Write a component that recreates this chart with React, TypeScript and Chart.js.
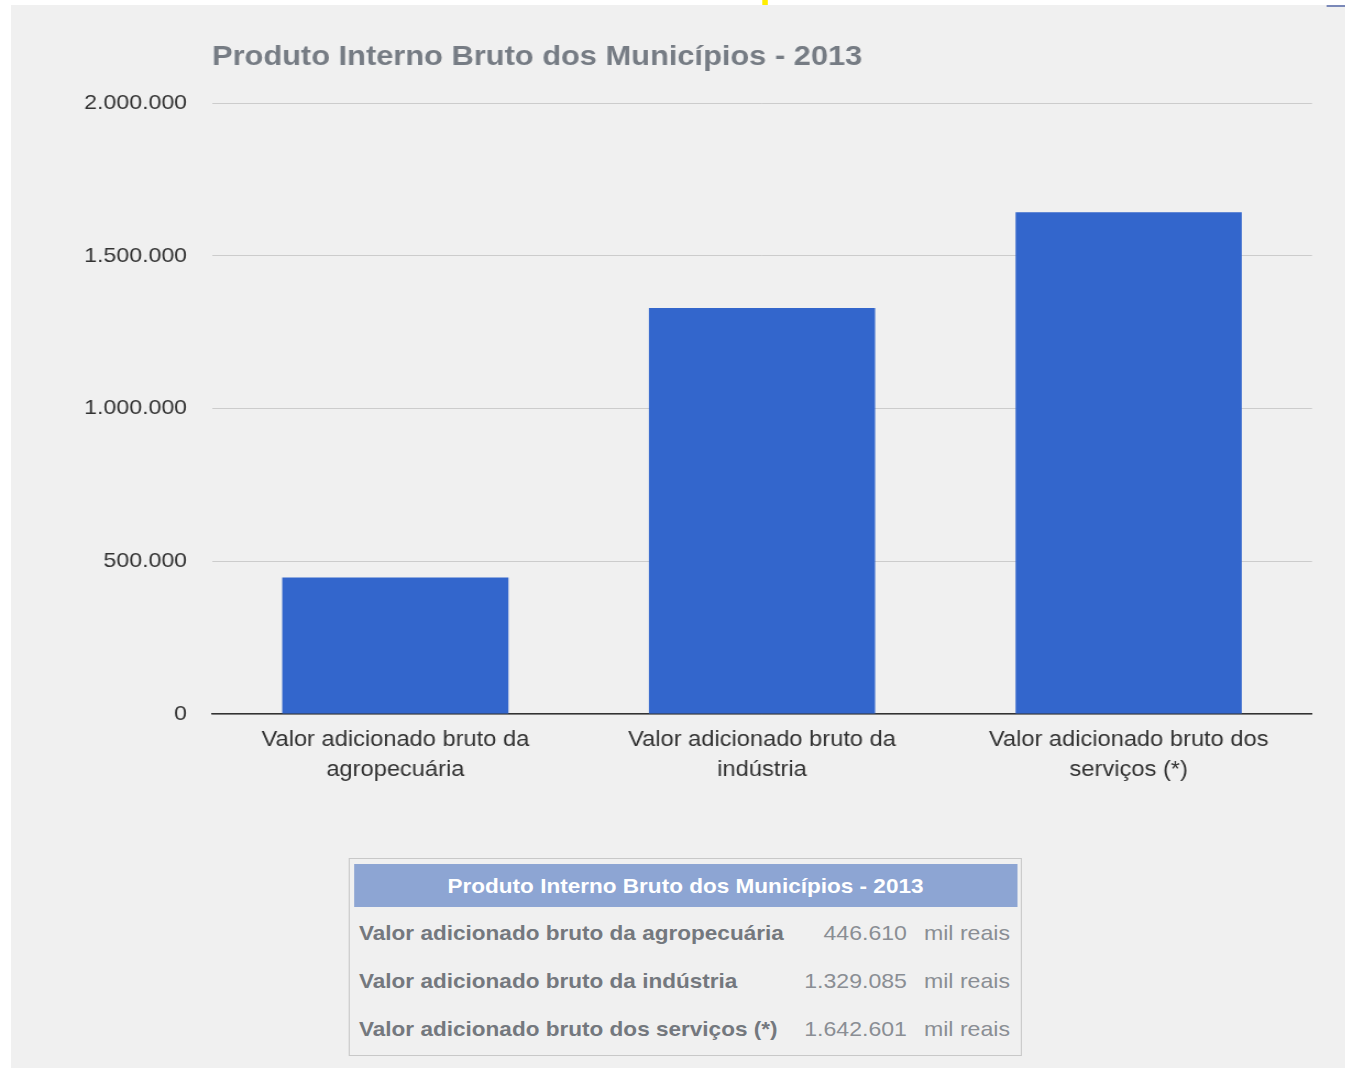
import React, { useEffect, useRef } from "react";
import { Chart, registerables } from "chart.js";

Chart.register(...registerables);

const TITLE = "Produto Interno Bruto dos Municípios - 2013";
const categories: string[][] = [
  ["Valor adicionado bruto da", "agropecuária"],
  ["Valor adicionado bruto da", "indústria"],
  ["Valor adicionado bruto dos", "serviços (*)"],
];
const tableLabels = [
  "Valor adicionado bruto da agropecuária",
  "Valor adicionado bruto da indústria",
  "Valor adicionado bruto dos serviços (*)",
];
const values = [446610, 1329085, 1642601];
const unit = "mil reais";
const yMax = 2000000;
const yStep = 500000;

const fmt = (v: number) => {
  const s = Math.round(v).toString();
  return s.replace(/\B(?=(\d{3})+(?!\d))/g, ".");
};

const FONT = "'Liberation Sans', Arial, sans-serif";
// the whole picture is drawn in a box that is stretched horizontally by K
const K = 1.1;
const W = 1223;
const X = (px: number) => px / K;

const titlePlugin = {
  id: "leftTitle",
  afterDraw(chart: any) {
    const { ctx, chartArea } = chart;
    ctx.save();
    ctx.font = `bold 28px ${FONT}`;
    ctx.fillStyle = "#767c84";
    ctx.textBaseline = "middle";
    ctx.textAlign = "left";
    ctx.fillText(TITLE, chartArea.left, 57);
    ctx.restore();
  },
};

function BarChart() {
  const ref = useRef<HTMLCanvasElement>(null);
  useEffect(() => {
    if (!ref.current) return;
    const chart = new Chart(ref.current, {
      type: "bar",
      data: {
        labels: categories,
        datasets: [
          {
            data: values,
            backgroundColor: "#3366cc",
            borderWidth: 0,
            categoryPercentage: 1,
            barPercentage: 0.617,
          },
        ],
      },
      options: {
        animation: false,
        responsive: false,
        maintainAspectRatio: false,
        layout: { padding: { left: 0, top: 103, right: W - X(1312), bottom: 0 } },
        plugins: {
          legend: { display: false },
          title: { display: false },
          tooltip: { enabled: false },
        },
        scales: {
          x: {
            grid: { display: false, drawTicks: false },
            border: { display: true, color: "#333333", width: 1.5 },
            ticks: {
              color: "#333333",
              font: { family: FONT, size: 21.5, lineHeight: 1.4 },
              padding: 11,
              maxRotation: 0,
              autoSkip: false,
            },
            afterFit(scale: any) {
              scale.height = 106;
            },
          },
          y: {
            min: 0,
            max: yMax,
            grid: { color: "#cccccc", lineWidth: 1, drawTicks: false },
            border: { display: false },
            ticks: {
              stepSize: yStep,
              color: "#333333",
              font: { family: FONT, size: 21 },
              padding: X(212) - X(187),
              callback: (v: any) => fmt(Number(v)),
            },
            afterFit(scale: any) {
              scale.width = X(212);
            },
          },
        },
      },
      plugins: [titlePlugin],
    });
    return () => chart.destroy();
  }, []);
  return (
    <canvas
      ref={ref}
      width={W}
      height={820}
      style={{ position: "absolute", left: 0, top: 0, width: W, height: 820 }}
    />
  );
}

const rowText: React.CSSProperties = {
  position: "absolute",
  whiteSpace: "nowrap",
  lineHeight: "24px",
  height: 24,
};

export default function App() {
  const rowCenters = [933, 981, 1029];
  return (
    <div
      style={{
        position: "fixed",
        left: 0,
        top: 0,
        width: W,
        height: 1070,
        background: "#ffffff",
        overflow: "hidden",
        fontFamily: FONT,
        transform: `scaleX(${K})`,
        transformOrigin: "0 0",
      }}
    >
      <div
        style={{
          position: "absolute",
          left: X(11),
          top: 5,
          width: W - X(11),
          height: 1063,
          background: "#f0f0f0",
        }}
      />
      <div style={{ position: "absolute", left: X(762), top: 0, width: X(6), height: 5, background: "#ffee00" }} />
      <div style={{ position: "absolute", left: X(1327), top: 5, width: X(18), height: 2, background: "#7a88b8" }} />
      <BarChart />
      <div
        style={{
          position: "absolute",
          left: X(349),
          top: 858,
          width: X(1022) - X(349) - 2,
          height: 196,
          border: "1px solid #c8c8c8",
          background: "#f0f0f0",
        }}
      />
      <div
        style={{
          position: "absolute",
          left: X(354),
          top: 864,
          width: X(1017) - X(354),
          height: 43,
          background: "#8da5d3",
          color: "#ffffff",
          fontWeight: "bold",
          fontSize: 20.5,
          lineHeight: "43px",
          textAlign: "center",
          whiteSpace: "nowrap",
        }}
      >
        {TITLE}
      </div>
      {tableLabels.map((l, i) => (
        <React.Fragment key={i}>
          <div
            style={{
              ...rowText,
              left: X(359),
              top: rowCenters[i] - 12,
              color: "#74787e",
              fontWeight: "bold",
              fontSize: 20.5,
            }}
          >
            {l}
          </div>
          <div
            style={{
              ...rowText,
              left: X(700),
              width: X(907) - X(700),
              textAlign: "right",
              top: rowCenters[i] - 12,
              color: "#8a8e94",
              fontSize: 21,
            }}
          >
            {fmt(values[i])}
          </div>
          <div
            style={{
              ...rowText,
              left: X(924),
              top: rowCenters[i] - 12,
              color: "#8a8e94",
              fontSize: 21,
            }}
          >
            {unit}
          </div>
        </React.Fragment>
      ))}
    </div>
  );
}
